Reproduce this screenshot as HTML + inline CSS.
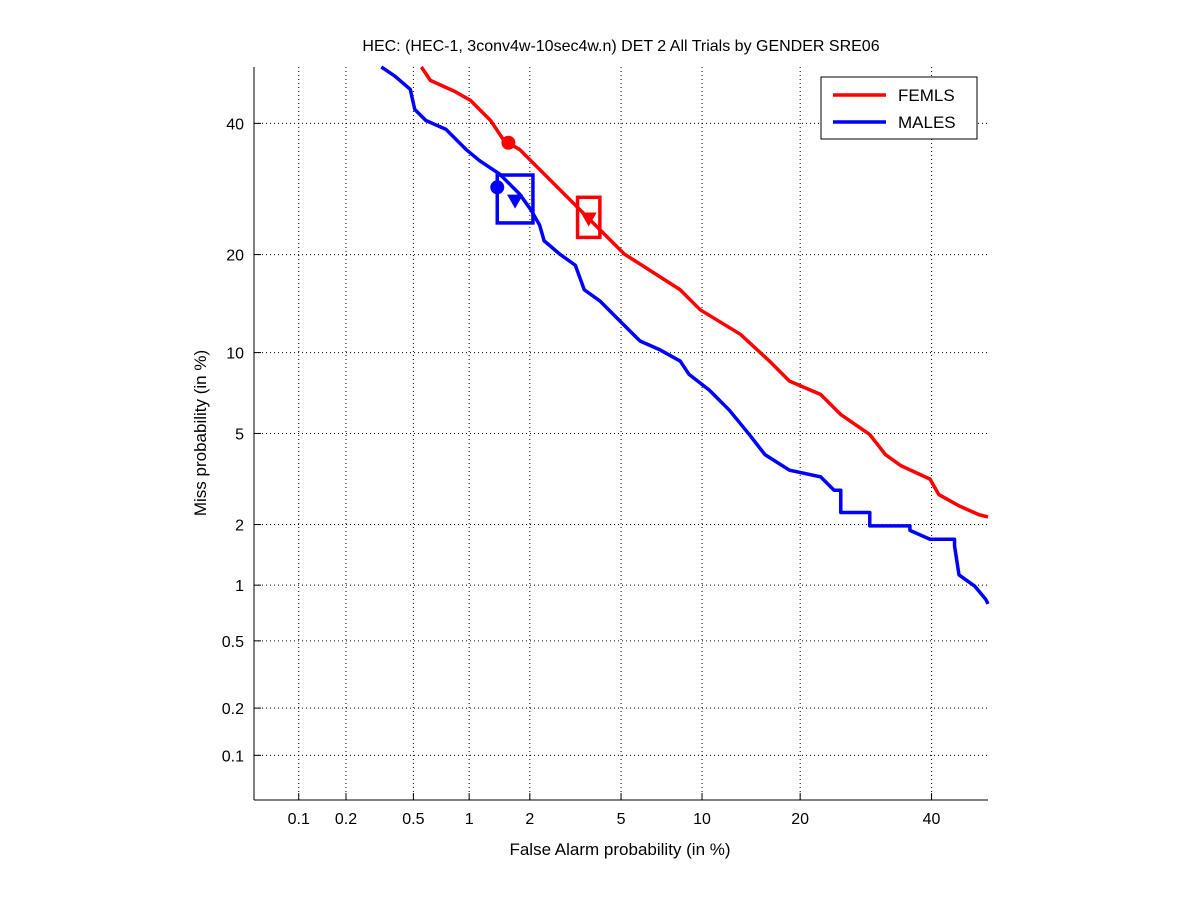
<!DOCTYPE html>
<html><head><meta charset="utf-8"><style>
body{margin:0;background:#fff;}
svg text{font-family:"Liberation Sans",sans-serif;}
</style></head><body>
<svg id="chart" width="1201" height="900" xmlns="http://www.w3.org/2000/svg"></svg>
<script>
// Data (normal deviates, i.e. probit of probability)
const tickLabels = ["0.1","0.2","0.5","1","2","5","10","20","40"];
const tickDeviates = [-3.090,-2.878,-2.576,-2.326,-2.054,-1.645,-1.282,-0.842,-0.253];
const femlsFA = [-2.54,-2.50,-2.39,-2.32,-2.28,-2.23,-2.17,-2.10,-2.03,-1.92,-1.83,-1.74,-1.63,-1.52,-1.38,-1.29,-1.11,-0.98,-0.89,-0.75,-0.66,-0.53,-0.46,-0.39,-0.26,-0.22,-0.13,-0.04,0];
const femlsMiss = [0,-0.06,-0.11,-0.15,-0.19,-0.24,-0.33,-0.37,-0.44,-0.55,-0.64,-0.73,-0.84,-0.91,-1.00,-1.09,-1.20,-1.32,-1.41,-1.47,-1.56,-1.65,-1.74,-1.79,-1.85,-1.92,-1.97,-2.01,-2.02];
const malesFA = [-2.72,-2.66,-2.59,-2.57,-2.52,-2.43,-2.34,-2.28,-2.19,-2.10,-2.05,-2.01,-1.99,-1.92,-1.85,-1.81,-1.74,-1.65,-1.56,-1.47,-1.38,-1.34,-1.25,-1.16,-1.07,-1.00,-0.89,-0.75,-0.69,-0.66,-0.66,-0.53,-0.53,-0.35,-0.35,-0.26,-0.15,-0.15,-0.13,-0.06,-0.01,0];
const malesMiss = [0,-0.04,-0.10,-0.19,-0.24,-0.28,-0.37,-0.42,-0.48,-0.57,-0.64,-0.71,-0.78,-0.84,-0.89,-1.00,-1.05,-1.14,-1.23,-1.27,-1.32,-1.38,-1.45,-1.54,-1.65,-1.74,-1.81,-1.84,-1.90,-1.90,-2.00,-2.00,-2.06,-2.06,-2.08,-2.12,-2.12,-2.15,-2.28,-2.33,-2.39,-2.41];
// markers: [circleFA, circleMiss, triFA, triMiss, boxFA0, boxFA1, boxMiss0, boxMiss1]
const femlsMarkers = [-2.15,-0.34,-1.79,-0.68,-1.84,-1.74,-0.585,-0.765];
const malesMarkers = [-2.20,-0.54,-2.12,-0.60,-2.20,-2.04,-0.485,-0.70];

const L=254,R=988,T=67,B=800,D0=-3.2905,D1=0;
const X=d=>L+(d-D0)/(D1-D0)*(R-L);
const Y=d=>T+(D1-d)/(D1-D0)*(B-T);
const svg=document.getElementById('chart');
const NS='http://www.w3.org/2000/svg';
function mk(tag,attrs,parent){const e=document.createElementNS(NS,tag);for(const k in attrs)e.setAttribute(k,attrs[k]);(parent||svg).appendChild(e);return e;}

mk('rect',{x:L,y:T,width:R-L,height:B-T,fill:'#fff',stroke:'none'});
tickDeviates.forEach((d,i)=>{
  const gx=mk('line',{x1:X(d),x2:X(d),y1:T,y2:B,stroke:'#000','stroke-width':1,'stroke-dasharray':'1,3'});
  
  
  const gy=mk('line',{x1:L,x2:R,y1:Y(d),y2:Y(d),stroke:'#000','stroke-width':1,'stroke-dasharray':'1,3'});
  
  
  mk('line',{x1:X(d),x2:X(d),y1:B,y2:B-7,stroke:'#000'});
  mk('line',{x1:L,x2:L+7,y1:Y(d),y2:Y(d),stroke:'#000'});
  const tx=mk('text',{x:X(d),y:B+24,'text-anchor':'middle','font-size':16});
  tx.textContent=tickLabels[i];
  
  
  const ty=mk('text',{x:L-10,y:Y(d)+6,'text-anchor':'end','font-size':16});
  ty.textContent=tickLabels[i];
  
  
});
mk('line',{x1:L,x2:R,y1:B,y2:B,stroke:'#000'});
mk('line',{x1:L,x2:L,y1:T,y2:B,stroke:'#000'});

function curve(fa,miss,color,name){
  const p=mk('polyline',{points:fa.map((d,i)=>X(d)+','+Y(miss[i])).join(' '),fill:'none',stroke:color,'stroke-width':3.5,'stroke-linejoin':'round'});
  
  
}
function markers(m,color,name){
  const c=mk('circle',{cx:X(m[0]),cy:Y(m[1]),r:6,fill:color,stroke:color,'stroke-width':2});
  
  
  const tx=X(m[2]),ty=Y(m[3]);
  const t=mk('polygon',{points:`${tx-8},${ty-6} ${tx+8},${ty-6} ${tx},${ty+8}`,fill:color});
  
  
  const b=mk('rect',{x:X(m[4]),y:Y(m[6]),width:X(m[5])-X(m[4]),height:Y(m[7])-Y(m[6]),fill:'none',stroke:color,'stroke-width':3.5});
  
  
}
curve(malesFA,malesMiss,'#0000ff','males-curve');
curve(femlsFA,femlsMiss,'#ff0000','femls-curve');
markers(femlsMarkers,'#ff0000','femls');
markers(malesMarkers,'#0000ff','males');
</script>
<svg style="position:absolute;left:0;top:0" width="1201" height="900" xmlns="http://www.w3.org/2000/svg">
  <text x="621" y="51" text-anchor="middle" font-size="16">HEC: (HEC-1, 3conv4w-10sec4w.n) DET 2 All Trials by GENDER SRE06</text>
  <text x="620" y="855" text-anchor="middle" font-size="17">False Alarm probability (in %)</text>
  <text x="206" y="433" text-anchor="middle" font-size="17" transform="rotate(-90 206 433)">Miss probability (in %)</text>
  <g>
    <rect x="821" y="77" width="156" height="62" fill="#fff" stroke="#000" stroke-width="1"/>
    <line x1="833" x2="886" y1="95" y2="95" stroke="#ff0000" stroke-width="3.5"/>
    <text x="898" y="101" font-size="17">FEMLS</text>
    <line x1="833" x2="886" y1="122" y2="122" stroke="#0000ff" stroke-width="3.5"/>
    <text x="898" y="128" font-size="17">MALES</text>
  </g>
</svg>
</body></html>
